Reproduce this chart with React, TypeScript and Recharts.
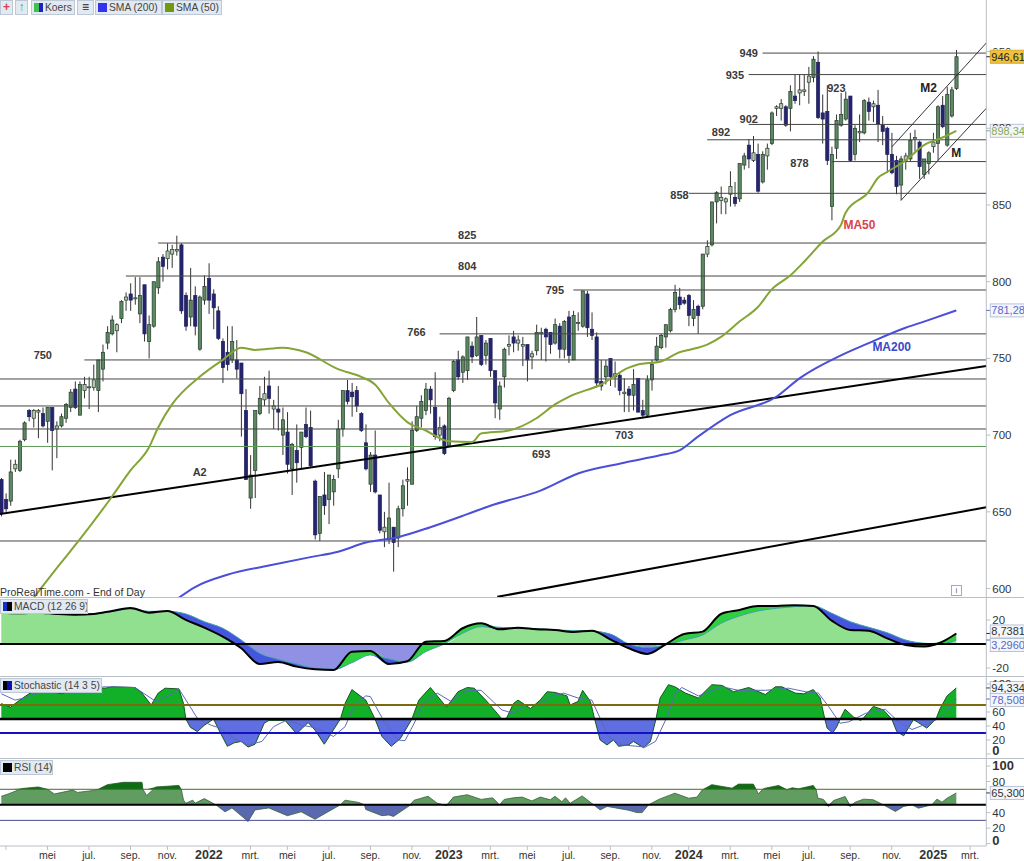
import { Area, Bar, ComposedChart, Line, ReferenceDot, ReferenceLine, XAxis, YAxis } from "recharts";

const opens = [
  671,658,657,678,677,697,716,711,715,714,709,718,
  704,706,711,718,730,713,729,731,731,729,743,760,
  766,768,776,788,792,789,779,798,761,771,796,816,
  815,818,820,824,791,777,791,756,788,802,792,781,
  761,754,749,749,747,716,659,677,714,723,732,717,
  717,700,702,678,690,692,707,705,670,636,661,658,
  663,678,704,729,728,729,714,695,668,687,661,637,
  632,640,633,652,670,668,703,711,716,730,718,700,
  706,693,729,749,741,742,758,752,765,752,763,742,
  717,738,758,764,760,758,759,751,755,766,769,767,
  760,771,756,777,749,773,771,792,769,764,735,738,
  750,738,739,727,730,726,737,716,713,736,749,757,
  764,768,782,790,788,791,776,784,784,818,824,852,
  853,852,857,855,854,876,889,879,883,865,882,890,
  913,913,914,913,921,923,924,930,933,943,910,911,
  849,887,902,906,921,883,897,897,917,914,915,902,
  900,883,879,863,879,880,893,891,870,877,888,890,
  915,889,908,926,
];
const highs = [
  672,662,684,684,697,709,717,717,717,718,718,718,
  709,714,721,730,735,735,738,738,746,749,759,771,
  778,773,788,793,799,803,803,798,778,800,816,818,
  825,824,830,825,793,809,797,791,804,812,795,784,
  763,771,771,762,747,730,687,716,732,738,742,723,
  732,718,715,695,707,702,718,716,671,660,676,674,
  674,710,729,736,734,732,715,707,689,703,661,650,
  669,640,654,671,679,709,719,726,734,732,741,712,
  707,725,749,755,752,764,761,777,765,762,763,742,
  735,757,765,768,765,764,759,755,772,770,770,767,
  776,773,775,781,781,780,794,794,780,767,749,749,
  750,748,741,737,732,743,737,723,739,749,764,766,
  772,783,798,796,790,792,788,785,818,827,852,859,
  862,855,872,865,877,884,893,895,890,885,890,911,
  915,919,915,928,935,935,935,940,947,950,922,928,
  888,909,923,924,921,902,909,919,920,918,925,908,
  901,897,882,882,884,897,899,892,880,885,897,915,
  921,927,927,951,
];
const lows = [
  647,650,654,676,676,696,709,705,698,705,695,677,
  685,705,708,715,717,713,724,717,729,715,735,756,
  765,754,773,781,781,785,773,761,750,770,792,800,
  808,809,817,779,768,771,765,755,785,779,769,762,
  734,742,747,737,699,671,652,659,713,719,714,704,
  703,687,675,661,669,678,698,679,632,631,648,642,
  654,672,699,720,712,715,702,677,663,662,636,627,
  629,611,627,647,654,668,702,705,713,714,697,696,
  687,693,728,736,734,736,747,751,745,746,738,711,
  710,731,752,754,755,745,735,743,752,749,748,753,
  759,750,750,747,749,768,770,764,762,731,729,733,
  732,731,726,715,715,716,715,711,712,729,748,756,
  757,767,780,782,785,771,771,766,782,816,823,838,
  844,844,849,849,852,873,874,878,858,864,873,889,
  908,905,901,898,916,915,921,916,930,906,890,876,
  840,880,901,905,878,879,891,896,905,904,891,889,
  871,870,857,853,873,878,885,867,867,870,884,879,
  900,888,907,925,
];
const closes = [
  649,652,676,681,696,708,712,716,716,706,718,703,
  706,712,720,728,718,733,733,731.5,736,749,754,767,
  775,772,787,790,788,789.5,791,766,772,800,813,810,
  820,821,821,781,771,788,771,790,797,788,783,763,
  744,746,761,743,727,671,674,716,724,727,724,719,
  715,710,681,694,682,702,699,680,635,660,654,674,
  671,704,729,722,725,719,703,678,687,663,638,640,
  646,630,652,667,671,703,712,722,730,723,699,705,
  688,724,748,738,751,764,751,764,746,760,742,721,
  732,756,759,760,762,759,749,753,767,767,764,759,
  772,756,774,752,778,773.5,794,770,765,734,732,745,
  738,740,729,728,726,733,715,713,736,746,758,765,
  772,782,793,785,786,778,782,778,818,823,852,858,
  855,854,862,851,877,882,880,884,859,883,887,910,
  914,916,902,924,918,925,925,934,945,907,906,879,
  883,905,909,919,879,900,898,918,911,916,903,898,
  883,871,862,880,882,892,894,875,880,884,891,914,
  901,922,925,946.61,
];

// moving averages at the bends
const sma50Weeks = [6,13,17,24,28,32,34,37,43,48,52,55,61,66,73,78,81,84,88,92,97,102,104,110,116,120,123,130,136,138,143,147,149,153,156,160,164,167,171,174,178,182,183,188,190,192,196,200,204,207];
const sma50Values = [590,617,632,660,677,692,705,720,738,749,757,755.5,757,754,743,738,733,721,708.5,703,696,695.5,701,703,711,720,725,733,744,746,748,754,755.5,759,764,774,783.5,795,804,813,826,837,845,858.5,867.6,871.5,879,889,894,898.34];
const sma200Weeks = [38,42,49,58,67,73,79,86,93,101,106,117,125,135,143,147,151,158,168,173,182,188,196,200,207];
const sma200Values = [593,601,609,615,620.5,624,630,633.5,640,648.5,654,664,675,682,687,690,699,713,725,737,752,760,770,774,781.28];

// support and resistance: [first week, price]
const levelStarts = [165,162,162,153,180,149,34,27,124,95,18];
const levelPrices = [949,935,902.5,892.5,878.3,857.6,825.2,803.7,794.6,766,749];
const fullLevels = [736.6,719,704,631];
const greenLevel = 692.6;

const noteTexts = ["949","935","923","902","892","878","858","825","804","795","766","750","A2","693","703"];
const noteWeeks = [162,159,181,162,156,173,147,101,101,120,90,9,43,117,135];
const notePrices = [949,935,926,906,897.6,877.4,856.5,830.4,810,794.6,767,752,676,687.7,700];

const macdWeeks = [0,4,8,12,16,20,24,28,32,36,40,44,48,52,56,60,64,68,72,76,80,84,88,92,96,100,104,108,112,116,120,124,128,132,136,140,144,148,152,156,160,164,168,172,176,180,184,188,192,196,200,204,207];
const macdValues = [26.1,25.6,26.1,25,24.4,25,27.5,30,26.1,27.5,20,13.6,6.1,-3.6,-16.7,-15,-18.9,-21.1,-21.7,-6.4,-5.8,-16.7,-14.4,1.9,2.5,13.1,17.2,12.2,13.6,12.2,11.7,10,11.1,3.9,-3.6,-8.3,-0.3,8.3,10.3,25,28.3,31.7,31.7,32.2,31.7,19.4,11.7,11.1,4.7,-0.8,-2.2,1.9,8.7381];
const signalValues = [25.6,25.6,26.1,25,24.4,25.3,26.9,29.2,27.2,27.2,25,18.6,13.1,3.3,-7.8,-12.8,-16.7,-20.3,-21.1,-15.6,-9.2,-12.5,-15,-6.4,0,8.9,14.4,13.9,12.8,12.8,11.7,11.1,10.6,8.3,0,-2.8,-0.8,3.3,7.5,17.2,23.3,27.5,29.7,31.1,31.7,25.6,18.6,13.9,9.4,3.3,0.6,0,3.296];

const stochWeeks = [0,2,4,6,8.5,13,16.5,22.5,24,29,30.5,32.5,34,35.5,38.5,39.5,40,41,42.5,44,46,47.5,49,50.5,52,53.5,55,57,58,61.5,64,66.5,68,70,73.5,74.5,76,79,81,82.5,84.5,86.5,89,90.5,93,96.5,99,101,102.5,105,107.5,108.5,109.5,111,112,114.7,116.8,118.3,120,122.6,123.3,125,126,127.7,128.6,129.8,131.3,132.7,133.8,136,137,139.2,140.7,141.9,142.8,144.6,146,148.3,151.1,154,156.2,158.7,162,165.6,167.8,169.2,172.1,173.9,176,177.5,178.5,179,180.2,181.1,181.8,182.9,184.7,185.7,186.2,186.7,189,191.2,193,194.1,195.6,196.6,197.7,198.5,200.6,202,202.6,203.5,205,207];
const stochValues = [72,67,77,86,94,86,94,94,96,95,87,70,87,94,93,72,50,38,32,41,50,30,11,16,18,10,14,44,48,48,29,45,34,14,50,72,92,77,50,25,11,22,50,77,95,67,89,95,94,77,58,50,51,72,77,65,77,89,88,83,70,75,91,75,50,20,13,20,11,13,18,9,18,50,80,99,96,87,80,99,98,89,95,85,96,96,87,86,92,80,50,37,30,39,50,64,53,50,48,50,68,63,50,32,26,37,49,46,37,46,50,65,83,94.334];
const stochSignalWeeks = [0,3,5,8.5,22.5,29,33.5,36,38.5,40.5,42.5,45.5,47.5,50.5,53.5,56.5,59,62,65,67,69.5,72,74.5,76.5,79,80,83,86,87.5,89.5,91.5,94.5,97.5,101,104,108.5,111,113.6,116.5,119.4,121.9,125,128,129.8,131.6,134.5,139.6,141.8,144.3,146.1,147.5,151.1,156.2,159.8,165.6,170.6,174.3,177.1,179.3,181.8,183.7,187.3,191.6,194.5,197.4,201.7,203.9,207];
const stochSignalValues = [86,77,80,89,96,95,75,82,93,72,51,41,37,22,13,18,39,49,41,39,34,25,39,70,83,82,46,20,19,44,72,87,75,91,91,63,58,70,71,83,87,80,77,51,25,13,10,18,53,87,95,83,96,91,91,94,89,87,68,44,46,58,64,46,35,46,53,78.508];

const rsiWeeks = [0,1.5,4.5,8,10,11.5,15.5,16.5,20,21,23,26.5,30.5,30.7,31.5,33.5,38.5,39,39.5,40,41.5,42,44,46.5,48.5,50,53.5,55,58,62,65,68,73.5,74.5,77.5,78.7,79,82.5,84,85,88.5,89.5,92.5,94.5,96.5,98,101,104,106.5,108,109,111,112.9,115,116.8,119,120,121.5,122.3,123.3,125.9,128.4,129.8,131.3,136,137.8,138.9,140.3,142.5,146,149,150.8,151.9,152.2,154,158.4,159.8,163,163.6,164.1,165,165.6,168.5,170.3,171.4,172.8,176,176.6,177,178.2,179.3,180.4,182.9,184,185.1,186.9,189,191.2,193.8,195.6,197.4,198.8,201.7,202.8,203.9,205,207];
const rsiValues = [61,64,71,73,70,64,69,66,68.5,70,76,79,79,70,62,73,75,70,56,52,56,52,58,50,41,46,28.5,43.5,46,36,41,31.5,50,56,53,50,44,36,37,35,49,56,61,52,49,60,63,57,59,50,57,59,60,55,60,56.5,61,54,59,52,61.5,50,43.5,48,43,40,40,50,57,65,58.5,60,69,70,76,71.5,76.7,76.7,70,64,70,71.5,75,69,72,70.6,75,70,58.6,57,48,55.6,60.7,48,53.4,57.3,56.5,50,41.4,48,50,45.7,50,57.3,53.4,58.6,65.3];

const tickWeeks = [1,10,19,28,36,45,54,62,71,80,89,97,106,114,123,132,141,149,158,167,175,184,193,202,210];
const tickLabels = ["","mei","jul.","sep.","nov.","2022","mrt.","mei","jul.","sep.","nov.","2023","mrt.","mei","jul.","sep.","nov.","2024","mrt.","mei","jul.","sep.","nov.","2025","mrt."];

const ROW_COUNT = 214;
const rows = Array.from({ length: ROW_COUNT }, (_, week) => ({
  week,
  open: opens[week] ?? null,
  high: highs[week] ?? null,
  low: lows[week] ?? null,
  close: closes[week] ?? null,
  sma50: sma50Weeks.includes(week) ? sma50Values[sma50Weeks.indexOf(week)] : null,
  sma200: sma200Weeks.includes(week) ? sma200Values[sma200Weeks.indexOf(week)] : null,
}));
const macdRows = macdWeeks.map((week, i) => ({ week, macd: macdValues[i], signal: signalValues[i] }));
const stochFillRows = stochWeeks.map((week, i) => ({ week, k: stochValues[i] }));
const stochSignalRows = stochSignalWeeks.map((week, i) => ({ week, d: stochSignalValues[i] }));
const rsiRows = rsiWeeks.map((week, i) => ({ week, rsi: rsiValues[i] }));

const CHART_WIDTH = 1025.3;
const FONT = '"Liberation Sans", Arial, sans-serif';
const WEEK_DOMAIN = [-0.5, ROW_COUNT - 0.5];
const AXIS_X = 987.3;
const MARGIN = { top: 0, right: 0, left: 0, bottom: 0 };

function Candle(props: any) {
  const { x, y, width, height, payload } = props;
  if (payload.high == null || !height) return null;
  const { open, high, low, close } = payload;
  const perPoint = height / (high - low);
  const top = y + (high - Math.max(open, close)) * perPoint;
  const bodyHeight = Math.max(Math.abs(open - close) * perPoint, 1);
  const mid = x + width / 2;
  const down = close < open;
  const small = !down && bodyHeight < 8;
  return (
    <g>
      <line x1={mid} x2={mid} y1={y} y2={y + height} stroke="#333" strokeWidth={1} />
      <rect
        x={mid - 1.6}
        y={top}
        width={3.2}
        height={bodyHeight}
        fill={down ? "#25256f" : small ? "#b5c7b0" : "#5b8a60"}
        stroke={down ? "#1d1d5c" : "#26382a"}
        strokeWidth={0.7}
      />
    </g>
  );
}

// the value tags sit over some axis labels, only the top of those stays visible
function axisTick(boldValues: number[], coveredValues: number[] = [], lift = 0) {
  return (props: any) => {
    const value = props.payload.value;
    const bold = boldValues.includes(value);
    if (coveredValues.includes(value)) {
      return (
        <svg x={props.x} y={props.y - 6} width={30} height={4} overflow="hidden">
          <text x={0} y={10} fontFamily={FONT} fontSize={11.5} fill="#333">{value}</text>
        </svg>
      );
    }
    return (
      <text x={props.x} y={props.y + 4 - (value === 0 ? lift : 0)} fontFamily={FONT} fontSize={bold ? 13 : 11.5} fontWeight={bold ? 700 : 400} fill="#333">
        {value}
      </text>
    );
  };
}

function weekTick(props: any) {
  const index = tickWeeks.indexOf(props.payload.value);
  const label = tickLabels[index] ?? "";
  const year = /^\d+$/.test(label);
  return (
    <text x={props.x} y={props.y + 9} textAnchor="middle" fontFamily={FONT} fontSize={year ? 12.5 : 10.5} fontWeight={year ? 700 : 400} fill="#333">
      {label}
    </text>
  );
}

function note(text: string, color = "#3a3a3a", size = 11) {
  return (props: any) => (
    <text x={props.cx} y={props.cy + 4} textAnchor="middle" fontFamily={FONT} fontSize={size} fontWeight={700} fill={color}>
      {text}
    </text>
  );
}

function valueTag(text: string, color: string, fill = "#f4f6fa", border = "#b9c3d6", shift = 0) {
  return (props: any) => (
    <g>
      <line x1={AXIS_X} x2={AXIS_X + 4} y1={props.cy} y2={props.cy} stroke={color} />
      <rect x={AXIS_X + 4} y={props.cy + shift - 6.5} width={34} height={13} fill={fill} stroke={border} strokeWidth={1} />
      <text x={AXIS_X + 5} y={props.cy + shift + 4} fontFamily={FONT} fontSize={11} fill={color}>
        {text}
      </text>
    </g>
  );
}

function Chip({ left, top, width, text, swatch, glyph, glyphColor }: { left: number; top: number; width: number; text?: string; swatch?: string; glyph?: string; glyphColor?: string }) {
  return (
    <div
      style={{
        position: "absolute",
        left,
        top,
        width,
        height: 15,
        background: "#e2e9f1",
        border: "1px solid #bcc8d6",
        boxSizing: "border-box",
        fontFamily: FONT,
        fontSize: 10.3,
        lineHeight: "13px",
        color: "#444",
        whiteSpace: "nowrap",
        overflow: "hidden",
      }}
    >
      {swatch && <span style={{ position: "absolute", left: 2, top: 2, width: 9, height: 9, background: swatch }} />}
      {glyph && (
        <span style={{ position: "absolute", left: 0, right: 0, top: 0, textAlign: "center", fontWeight: 700, fontSize: 12, color: glyphColor }}>
          {glyph}
        </span>
      )}
      {text && <span style={{ position: "absolute", left: 13, top: 0 }}>{text}</span>}
    </div>
  );
}

function Divider({ top }: { top: number }) {
  return <div style={{ position: "absolute", left: 0, top, width: 1024, height: 1, background: "#b9bfc6" }} />;
}

function PriceChart() {
  return (
    <ComposedChart width={CHART_WIDTH} height={597} data={rows} margin={MARGIN} barCategoryGap={0}>
      <XAxis xAxisId="band" dataKey="week" type="category" scale="band" hide />
      <XAxis xAxisId="num" dataKey="week" type="number" domain={WEEK_DOMAIN} hide allowDataOverflow />
      <YAxis
        orientation="right"
        width={38}
        domain={[594.5, 983.6]}
        allowDataOverflow
        interval={0}
        ticks={[600, 650, 700, 750, 800, 850, 900, 950]}
        tick={axisTick([], [900, 950])}
        tickSize={4}
        tickMargin={2}
        stroke="#b9bfc6"
      />
      {fullLevels.map((price) => (
        <ReferenceLine key={price} xAxisId="num" y={price} stroke="#454545" strokeWidth={1} />
      ))}
      <ReferenceLine xAxisId="num" y={greenLevel} stroke="#5f9a58" strokeWidth={1} />
      {levelPrices.map((price, i) => (
        <ReferenceLine
          key={price}
          xAxisId="num"
          segment={[{ x: levelStarts[i], y: price }, { x: WEEK_DOMAIN[1], y: price }]}
          stroke="#454545"
          strokeWidth={1}
        />
      ))}
      <Bar xAxisId="band" dataKey={(r: any) => (r.high == null ? null : [r.low, r.high])} shape={Candle} isAnimationActive={false} />
      <ReferenceLine xAxisId="num" segment={[{ x: -0.5, y: 648.5 }, { x: 213.5, y: 745 }]} stroke="#000" strokeWidth={2} />
      <ReferenceLine xAxisId="num" segment={[{ x: 107.5, y: 594.6 }, { x: 213.5, y: 653 }]} stroke="#000" strokeWidth={2} />
      <ReferenceLine xAxisId="num" segment={[{ x: 193, y: 887.8 }, { x: 213.5, y: 955.6 }]} stroke="#333" strokeWidth={1} />
      <ReferenceLine xAxisId="num" segment={[{ x: 195, y: 853 }, { x: 213.5, y: 913 }]} stroke="#333" strokeWidth={1} />
      <Line xAxisId="band" type="monotone" dataKey="sma200" stroke="#4a4ed8" strokeWidth={2} dot={false} connectNulls isAnimationActive={false} />
      <Line xAxisId="band" type="monotone" dataKey="sma50" stroke="#84a535" strokeWidth={2} dot={false} connectNulls isAnimationActive={false} />
      {noteTexts.map((text, i) => (
        <ReferenceDot key={text} xAxisId="num" x={noteWeeks[i]} y={notePrices[i]} r={0} shape={note(text)} />
      ))}
      <ReferenceDot xAxisId="num" x={186} y={837} r={0} shape={note("MA50", "#d9434a", 12)} />
      <ReferenceDot xAxisId="num" x={193} y={757.4} r={0} shape={note("MA200", "#3a48c8", 12)} />
      <ReferenceDot xAxisId="num" x={201} y={926} r={0} shape={note("M2", "#222", 12)} />
      <ReferenceDot xAxisId="num" x={207} y={884} r={0} shape={note("M", "#222", 12)} />
      <ReferenceDot xAxisId="num" x={207} y={946.61} r={0} ifOverflow="visible" shape={valueTag("946,61", "#222", "#f0c13a", "#d9a92a")} />
      <ReferenceDot xAxisId="num" x={207} y={898.34} r={0} ifOverflow="visible" shape={valueTag("898,34", "#86a85a")} />
      <ReferenceDot xAxisId="num" x={207} y={781.28} r={0} ifOverflow="visible" shape={valueTag("781,28", "#5a68c8")} />
    </ComposedChart>
  );
}

function MacdChart() {
  return (
    <ComposedChart width={CHART_WIDTH} height={78} data={macdRows} margin={MARGIN}>
      <XAxis dataKey="week" type="number" domain={WEEK_DOMAIN} hide allowDataOverflow />
      <YAxis orientation="right" width={38} domain={[-26.7, 38.3]} allowDataOverflow interval={0} ticks={[-20, 20]} tick={axisTick([])} tickSize={4} tickMargin={2} stroke="#b9bfc6" />
      <Area type="monotone" dataKey={(r: any) => [0, Math.max(0, Math.min(r.macd, r.signal))]} fill="#90e090" fillOpacity={1} stroke="none" dot={false} activeDot={false} isAnimationActive={false} />
      <Area type="monotone" dataKey={(r: any) => [Math.min(0, Math.max(r.macd, r.signal)), 0]} fill="#9090e4" fillOpacity={1} stroke="none" dot={false} activeDot={false} isAnimationActive={false} />
      <Area type="monotone" dataKey={(r: any) => [r.signal, Math.max(r.macd, r.signal)]} fill="#2fd040" fillOpacity={1} stroke="none" dot={false} activeDot={false} isAnimationActive={false} />
      <Area type="monotone" dataKey={(r: any) => [Math.min(r.macd, r.signal), r.signal]} fill="#4456e0" fillOpacity={1} stroke="none" dot={false} activeDot={false} isAnimationActive={false} />
      <Line type="monotone" dataKey="signal" stroke="#3f9fa8" strokeWidth={1} dot={false} isAnimationActive={false} />
      <ReferenceLine y={0} stroke="#000" strokeWidth={2} />
      <Line type="monotone" dataKey="macd" stroke="#000" strokeWidth={2} dot={false} isAnimationActive={false} />
      <ReferenceDot x={207} y={8.7381} r={0} ifOverflow="visible" shape={valueTag("8,7381", "#333", undefined, undefined, -2)} />
      <ReferenceDot x={207} y={3.296} r={0} ifOverflow="visible" shape={valueTag("3,2960", "#5a68c8", undefined, undefined, 5)} />
    </ComposedChart>
  );
}

function StochasticChart() {
  return (
    <ComposedChart width={CHART_WIDTH} height={81} data={stochFillRows} margin={MARGIN}>
      <XAxis dataKey="week" type="number" domain={WEEK_DOMAIN} hide allowDataOverflow />
      <YAxis orientation="right" width={38} domain={[-5.7, 110]} allowDataOverflow interval={0} ticks={[0, 20, 40, 60, 100]} tick={axisTick([0], [100], 3)} tickSize={4} tickMargin={2} stroke="#b9bfc6" />
      <Area dataKey={(r: any) => [50, Math.max(50, r.k)]} fill="#12b028" fillOpacity={1} stroke="none" dot={false} activeDot={false} isAnimationActive={false} />
      <Area dataKey={(r: any) => [Math.min(50, r.k), 50]} fill="#5f6ee0" fillOpacity={1} stroke="none" dot={false} activeDot={false} isAnimationActive={false} />
      <Line dataKey="k" stroke="#14561f" strokeWidth={1} dot={false} isAnimationActive={false} />
      <Line data={stochSignalRows} dataKey="d" stroke="#5a6ab8" strokeWidth={1} dot={false} isAnimationActive={false} />
      <ReferenceLine y={70} stroke="#7a6a10" strokeWidth={2} />
      <ReferenceLine y={50} stroke="#000" strokeWidth={2.5} />
      <ReferenceLine y={30} stroke="#1212c4" strokeWidth={2} />
      <ReferenceDot x={207} y={94.334} r={0} ifOverflow="visible" shape={valueTag("94,334", "#333")} />
      <ReferenceDot x={207} y={78.508} r={0} ifOverflow="visible" shape={valueTag("78,508", "#5a68c8", undefined, undefined, 1)} />
    </ComposedChart>
  );
}

function RsiChart() {
  return (
    <ComposedChart width={CHART_WIDTH} height={102} data={rsiRows} margin={MARGIN}>
      <XAxis
        dataKey="week"
        type="number"
        domain={WEEK_DOMAIN}
        allowDataOverflow
        height={15}
        ticks={tickWeeks}
        interval={0}
        tick={weekTick}
        tickSize={4}
        tickMargin={0}
        stroke="#b9bfc6"
      />
      <YAxis orientation="right" width={38} domain={[-3, 109]} allowDataOverflow interval={0} ticks={[0, 20, 40, 80, 100]} tick={axisTick([0, 100], [], 3)} tickSize={4} tickMargin={2} stroke="#b9bfc6" />
      <Area dataKey={(r: any) => [50, Math.max(50, r.rsi)]} fill="#619c61" fillOpacity={1} stroke="none" dot={false} activeDot={false} isAnimationActive={false} />
      <Area dataKey={(r: any) => [70, Math.max(70, r.rsi)]} fill="#0c6e12" fillOpacity={1} stroke="none" dot={false} activeDot={false} isAnimationActive={false} />
      <Area dataKey={(r: any) => [Math.min(50, r.rsi), 50]} fill="#5a68b0" fillOpacity={1} stroke="none" dot={false} activeDot={false} isAnimationActive={false} />
      <Line dataKey="rsi" stroke="#35603a" strokeWidth={0.8} dot={false} isAnimationActive={false} />
      <ReferenceLine y={70} stroke="#4c6a20" strokeWidth={1} />
      <ReferenceLine y={50} stroke="#000" strokeWidth={2} />
      <ReferenceLine y={30} stroke="#4a4a90" strokeWidth={1} />
      <ReferenceDot x={207} y={65.3} r={0} ifOverflow="visible" shape={valueTag("65,300", "#333")} />
    </ComposedChart>
  );
}

export default function App() {
  return (
    <div style={{ position: "absolute", left: 0, top: 0, width: 1024, height: 861, overflow: "hidden", background: "#fff" }}>
      <div style={{ position: "absolute", left: -1.3, top: 0 }}><PriceChart /></div>
      <div style={{ position: "absolute", left: -1.3, top: 598 }}><MacdChart /></div>
      <div style={{ position: "absolute", left: -1.3, top: 677 }}><StochasticChart /></div>
      <div style={{ position: "absolute", left: -1.3, top: 759 }}><RsiChart /></div>
      <Divider top={597} />
      <Divider top={676} />
      <Divider top={758} />

      <Chip left={0} top={0} width={13} glyph="+" glyphColor="#d8404a" />
      <Chip left={15} top={0} width={13} glyph="↑" glyphColor="#30b040" />
      <Chip left={31} top={0} width={44} text="Koers" swatch="linear-gradient(90deg,#40c050 50%,#2020c0 50%)" />
      <Chip left={77} top={0} width={17} glyph="≡" glyphColor="#222" />
      <Chip left={95} top={0} width={67} text="SMA (200)" swatch="#3333ee" />
      <Chip left={162} top={0} width={60} text="SMA (50)" swatch="#6f9a10" />
      <Chip left={0} top={599} width={88} text="MACD (12 26 9)" swatch="linear-gradient(90deg,#1030c8 50%,#000 50%)" />
      <Chip left={0} top={678} width={102} text="Stochastic (14 3 5)" swatch="linear-gradient(90deg,#000 50%,#1010b0 50%)" />
      <Chip left={0} top={760} width={53} text="RSI (14)" swatch="#000" />
      <div style={{ position: "absolute", left: 0, top: 586, fontFamily: FONT, fontSize: 10.5, color: "#333" }}>
        ProRealTime.com - End of Day
      </div>
      <div style={{ position: "absolute", left: 951, top: 585, width: 9, height: 9, border: "1px solid #aaa", fontFamily: FONT, fontSize: 8, lineHeight: "9px", textAlign: "center", color: "#666" }}>
        i
      </div>
    </div>
  );
}
